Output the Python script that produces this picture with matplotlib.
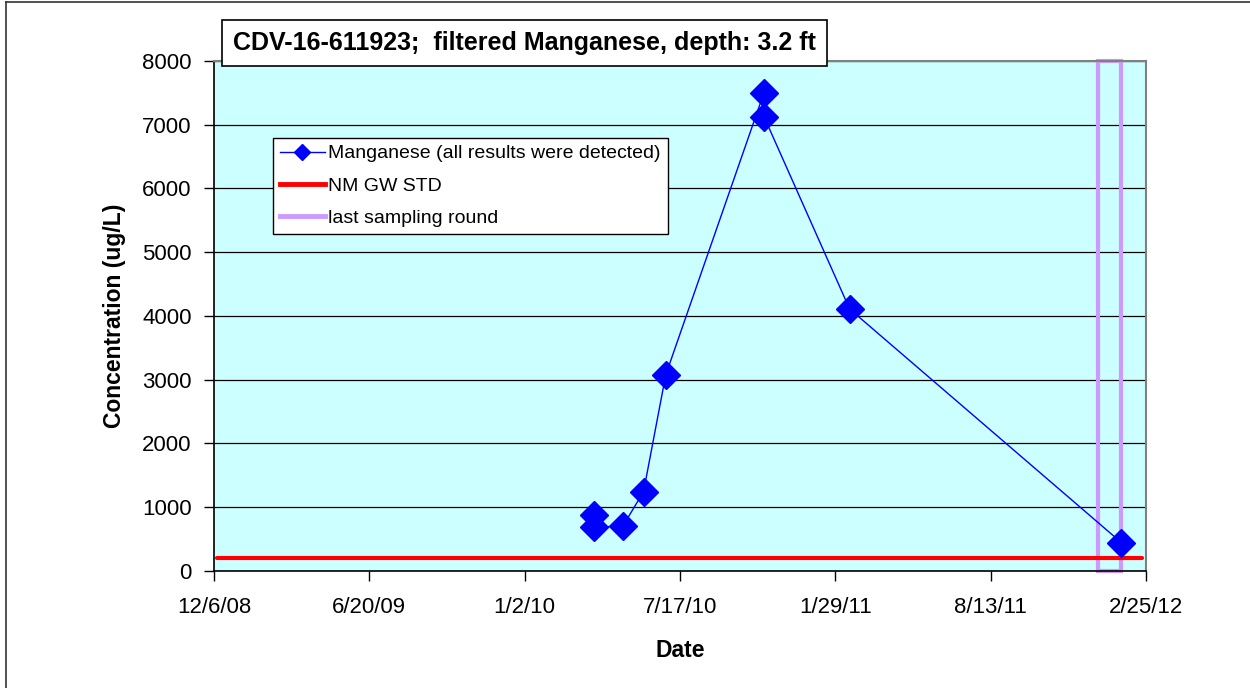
import pandas as pd
import matplotlib
matplotlib.use('Agg')
import matplotlib.pyplot as plt
import matplotlib.dates as mdates
from matplotlib.patches import Rectangle
from matplotlib.lines import Line2D

# Messwerte Mangan (ug/L)
sample_dates = ['2010-03-31', '2010-03-31', '2010-05-06', '2010-06-01', '2010-06-29',
                '2010-10-31', '2010-10-31', '2011-02-16', '2012-01-25']
manganese = [880, 685, 706, 1244, 3075, 7503, 7126, 4110, 444]

# NM Grundwasser-Standard
std_dates = ['2008-12-10', '2012-02-20']
std_value = [200, 200]

# letzte Probenahme (Rahmen)
last_round = ['2011-12-27', '2012-01-24']

x_start = '2008-12-06'
x_end = '2012-02-25'
y_ticks = [0, 1000, 2000, 3000, 4000, 5000, 6000, 7000, 8000]

plt.rcParams['font.family'] = ['Liberation Sans', 'DejaVu Sans']

fig = plt.figure(figsize=(12.5, 6.88), dpi=100)
ax = fig.add_axes([0.1712, 0.1701, 0.7456, 0.7413])
ax.set_facecolor('#CCFFFF')

d = pd.to_datetime(sample_dates)
ax.plot(d, manganese, color='#0000FF', lw=1.0, marker='D', markersize=14,
        markerfacecolor='#0000FF', markeredgecolor='#0000FF', zorder=4)
ax.plot(pd.to_datetime(std_dates), std_value, color='#FF0000', lw=3,
        solid_capstyle='round', zorder=3)

r0 = mdates.date2num(pd.Timestamp(last_round[0]))
r1 = mdates.date2num(pd.Timestamp(last_round[1]))
ax.add_patch(Rectangle((r0, 0), r1 - r0, 8000, fill=False, edgecolor='#CC99FF',
                       lw=3, zorder=2, clip_on=False))

x0 = pd.Timestamp(x_start)
x1 = pd.Timestamp(x_end)
ax.set_xlim(x0, x1)
ax.set_ylim(0, 8000)
ticks = pd.date_range(x0, x1, freq='196D')
ax.set_xticks(ticks)
ax.set_xticklabels([f"{t.month}/{t.day}/{t.year % 100:02d}" for t in ticks], fontsize=16)
ax.set_yticks(y_ticks)
ax.set_yticklabels([str(v) for v in y_ticks], fontsize=16)
ax.tick_params(direction='out', length=7, width=1, color='black', pad=9)
ax.tick_params(axis='x', pad=12)
ax.yaxis.grid(True, color='black', lw=0.9)
ax.set_axisbelow(True)

for s in ['top', 'right']:
    ax.spines[s].set_color('#808080')
    ax.spines[s].set_linewidth(1.5)
for s in ['left', 'bottom']:
    ax.spines[s].set_color('black')
    ax.spines[s].set_linewidth(1.2)

ax.set_xlabel('Date', fontsize=16.5, fontweight='bold')
ax.set_ylabel('Concentration (ug/L)', fontsize=16.5, fontweight='bold')
ax.xaxis.set_label_coords(0.5, -0.133)
ax.yaxis.set_label_coords(-0.0944, 0.5)

handles = [
    Line2D([], [], color='#0000FF', lw=1.0, marker='D', markersize=8),
    Line2D([], [], color='#FF0000', lw=3.5),
    Line2D([], [], color='#CC99FF', lw=3.5),
]
labels = ['Manganese (all results were detected)', 'NM GW STD', 'last sampling round']
leg = ax.legend(handles, labels, loc='upper left', bbox_to_anchor=(0.0633, 0.849),
                borderaxespad=0, fontsize=14, frameon=True, fancybox=False,
                handlelength=2.3, handletextpad=0.2, labelspacing=0.76,
                borderpad=0.35)
leg.get_frame().set_edgecolor('black')
leg.get_frame().set_linewidth(1.0)
leg.get_frame().set_facecolor('white')
leg.get_frame().set_alpha(1)

fig.text(0.4196, 0.9375, 'CDV-16-611923;  filtered Manganese, depth: 3.2 ft',
         ha='center', va='center', fontsize=18, fontweight='bold',
         bbox=dict(boxstyle='square,pad=0.45', facecolor='white', edgecolor='black', lw=1.2))

# Rahmen oben und links
fig.add_artist(Line2D([0.005, 1.0], [0.997, 0.997], color='#333333', lw=1.2))
fig.add_artist(Line2D([0.005, 0.005], [0.0, 0.997], color='#333333', lw=1.2))

fig.savefig('out.png', dpi=100)
